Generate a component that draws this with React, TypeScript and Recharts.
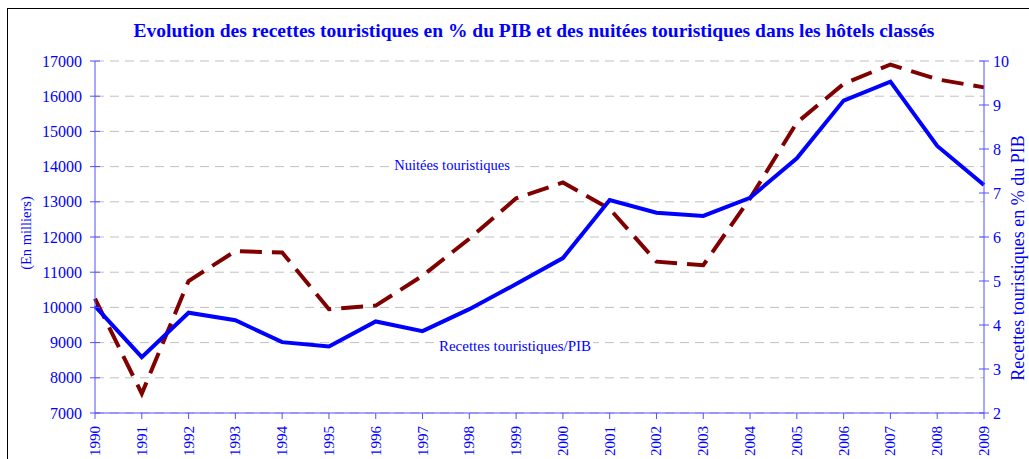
import React from 'react';
import { LineChart, Line, XAxis, YAxis, CartesianGrid } from 'recharts';

const years = [1990, 1991, 1992, 1993, 1994, 1995, 1996, 1997, 1998, 1999, 2000, 2001, 2002, 2003, 2004, 2005, 2006, 2007, 2008, 2009];
const nuitees = [10250, 7550, 10750, 11600, 11560, 9950, 10050, 10900, 11950, 13100, 13550, 12800, 11300, 11200, 13100, 15250, 16350, 16900, 16480, 16250];
const recettes = [4.43, 3.27, 4.28, 4.11, 3.61, 3.51, 4.08, 3.86, 4.36, 4.93, 5.52, 6.84, 6.55, 6.48, 6.89, 7.79, 9.1, 9.53, 8.07, 7.18];
const leftTicks = [7000, 8000, 9000, 10000, 11000, 12000, 13000, 14000, 15000, 16000, 17000];
const rightTicks = [2, 3, 4, 5, 6, 7, 8, 9, 10];

const title = 'Evolution des recettes touristiques en % du PIB et des nuitées touristiques dans les hôtels classés';
const leftLabel = '(En milliers)';
const rightLabel = 'Recettes touristiques en  % du PIB';
const nuiteesLabel = 'Nuitées touristiques';
const recettesLabel = 'Recettes touristiques/PIB';

const data = years.map((y, i) => ({ year: y, nuitees: nuitees[i], recettes: recettes[i] }));

const FONT = '"Liberation Serif", "Times New Roman", serif';
const BLUE = '#0000ff';
const AXIS = '#5050ff';

const XTick = (props: any) => {
  const { x, y, payload } = props;
  return (
    <text
      x={x}
      y={y}
      transform={`rotate(-90 ${x} ${y})`}
      textAnchor="end"
      dominantBaseline="central"
      fill={BLUE}
      fontSize={15}
      fontFamily={FONT}
    >
      {payload.value}
    </text>
  );
};

const LeftTick = (props: any) => {
  const { x, y, payload } = props;
  const ax = x + 13;
  return (
    <g>
      <line x1={ax - 5} x2={ax + 5} y1={y} y2={y} stroke={AXIS} strokeWidth={1} />
      <text x={x} y={y} textAnchor="end" dominantBaseline="central" fill={BLUE} fontSize={16} fontFamily={FONT}>
        {payload.value}
      </text>
    </g>
  );
};

const RightTick = (props: any) => {
  const { x, y, payload } = props;
  const ax = x - 9;
  return (
    <g>
      <line x1={ax - 5} x2={ax + 5} y1={y} y2={y} stroke={AXIS} strokeWidth={1} />
      <text x={x} y={y} textAnchor="start" dominantBaseline="central" fill={BLUE} fontSize={16} fontFamily={FONT}>
        {payload.value}
      </text>
    </g>
  );
};

export default function App() {
  return (
    <div style={{ position: 'relative', width: 1029, height: 459, overflow: 'hidden', background: '#fff', fontFamily: FONT }}>
      <style>{`html,body{margin:0;padding:0;overflow:hidden;background:#fff}`}</style>
      <div
        style={{
          position: 'absolute',
          left: 7,
          top: 8,
          width: 1040,
          height: 470,
          borderLeft: '1.5px solid #000',
          borderTop: '1.5px solid #000',
        }}
      />
      <div style={{ position: 'absolute', left: 0, top: 0 }}>
        <LineChart width={1029} height={459} data={data} margin={{ top: 61, right: 10, bottom: 6, left: 35 }}>
          <CartesianGrid yAxisId="left" vertical={false} stroke="#c0c0c0" strokeDasharray="9 6" />
          <XAxis
            dataKey="year"
            type="number"
            domain={[1990, 2009]}
            ticks={years}
            interval={0}
            height={40}
            tickSize={6}
            tickMargin={7}
            stroke={AXIS}
            tick={<XTick />}
          />
          <YAxis
            yAxisId="left"
            orientation="left"
            domain={[7000, 17000]}
            ticks={leftTicks}
            interval={0}
            width={60}
            tickSize={0}
            tickMargin={13}
            tickLine={false}
            stroke={AXIS}
            tick={<LeftTick />}
          />
          <YAxis
            yAxisId="right"
            orientation="right"
            domain={[2, 10]}
            ticks={rightTicks}
            interval={0}
            width={35}
            tickSize={0}
            tickMargin={9}
            tickLine={false}
            stroke={AXIS}
            tick={<RightTick />}
          />
          <Line
            yAxisId="left"
            type="linear"
            dataKey="nuitees"
            stroke="#800000"
            strokeWidth={4}
            strokeDasharray="22 10"
            dot={false}
            isAnimationActive={false}
          />
          <Line
            yAxisId="right"
            type="linear"
            dataKey="recettes"
            stroke={BLUE}
            strokeWidth={4}
            dot={false}
            isAnimationActive={false}
          />
        </LineChart>
      </div>
      <div
        style={{
          position: 'absolute',
          left: 34,
          width: 1000,
          top: 20,
          lineHeight: '22px',
          textAlign: 'center',
          fontSize: 19.5,
          fontWeight: 'bold',
          color: BLUE,
          whiteSpace: 'nowrap',
        }}
      >
        {title}
      </div>
      <div
        style={{
          position: 'absolute',
          left: 452,
          top: 165,
          transform: 'translate(-50%, -50%)',
          fontSize: 14.5,
          lineHeight: '16px',
          color: BLUE,
          background: '#fff',
          padding: '0 2px',
          whiteSpace: 'nowrap',
        }}
      >
        {nuiteesLabel}
      </div>
      <div
        style={{
          position: 'absolute',
          left: 515,
          top: 346,
          transform: 'translate(-50%, -50%)',
          fontSize: 15,
          lineHeight: '16px',
          color: BLUE,
          background: '#fff',
          padding: '0 2px',
          whiteSpace: 'nowrap',
        }}
      >
        {recettesLabel}
      </div>
      <div
        style={{
          position: 'absolute',
          left: 26,
          top: 233,
          transform: 'translate(-50%, -50%) rotate(-90deg)',
          fontSize: 14.5,
          lineHeight: '16px',
          color: BLUE,
          whiteSpace: 'nowrap',
        }}
      >
        {leftLabel}
      </div>
      <div
        style={{
          position: 'absolute',
          left: 1018,
          top: 258,
          transform: 'translate(-50%, -50%) rotate(-90deg)',
          fontSize: 18,
          lineHeight: '20px',
          color: BLUE,
          whiteSpace: 'nowrap',
        }}
      >
        {rightLabel}
      </div>
    </div>
  );
}
